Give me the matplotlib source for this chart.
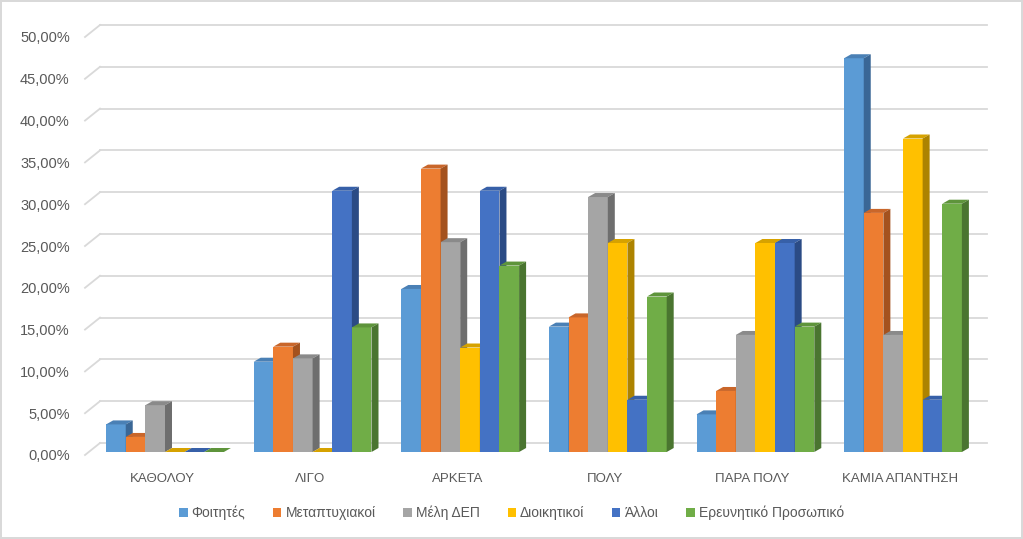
import matplotlib
matplotlib.use("Agg")
import matplotlib.pyplot as plt
from matplotlib.patches import Rectangle, Polygon, Patch

categories = ["ΚΑΘΟΛΟΥ", "ΛΙΓΟ", "ΑΡΚΕΤΑ", "ΠΟΛΥ", "ΠΑΡΑ ΠΟΛΥ", "ΚΑΜΙΑ ΑΠΑΝΤΗΣΗ"]
series = ["Φοιτητές", "Μεταπτυχιακοί", "Μέλη ΔΕΠ", "Διοικητικοί", "Άλλοι",
          "Ερευνητικό Προσωπικό"]

foitites = [3.3, 10.8, 19.5, 15.0, 4.5, 47.1]
metaptyxiakoi = [1.8, 12.6, 33.9, 16.1, 7.3, 28.6]
meli_dep = [5.6, 11.2, 25.1, 30.5, 14.0, 14.0]
dioikitikoi = [0.0, 0.0, 12.5, 25.0, 25.0, 37.5]
alloi = [0.0, 31.25, 31.25, 6.25, 25.0, 6.25]
erevnitiko = [0.0, 14.9, 22.3, 18.6, 15.0, 29.7]
values = [foitites, metaptyxiakoi, meli_dep, dioikitikoi, alloi, erevnitiko]

yticks = [0, 5, 10, 15, 20, 25, 30, 35, 40, 45, 50]

front = ["#5B9BD5", "#ED7D31", "#A5A5A5", "#FFC000", "#4472C4", "#70AD47"]
top = ["#4A80B5", "#C9662A", "#8A8A8A", "#D6A200", "#3760A8", "#5E943B"]
side = ["#3A6796", "#A4521E", "#6E6E6E", "#AD8300", "#2B4B85", "#4A7530"]

W, H = 1023, 539
fig = plt.figure(figsize=(W / 100, H / 100), dpi=100)
fig.patch.set_edgecolor("#d9d9d9")
fig.patch.set_linewidth(1.5)

# front plane of the plot, in pixels
x_left, x_right = 85, 972
y_zero, y_top = 455, 37
ax = fig.add_axes([x_left / W, 1 - y_zero / H, (x_right - x_left) / W,
                   (y_zero - y_top) / H])
cat_px0, cat_step = 162, 147.6
xmin = (x_left - cat_px0) / cat_step
xmax = (x_right - cat_px0) / cat_step
ax.set_xlim(xmin, xmax)
ax.set_ylim(0, 50)
for s in ax.spines.values():
    s.set_visible(False)

px_x = (xmax - xmin) / (x_right - x_left)
px_y = 50 / (y_zero - y_top)

# back wall gridlines
gdx, gdy = 15 * px_x, 12 * px_y
for v in yticks:
    ax.plot([xmin + gdx, xmax + gdx], [v + gdy, v + gdy], color="#d9d9d9",
            lw=1.3, zorder=1, clip_on=False)
    ax.plot([xmin, xmin + gdx], [v, v + gdy], color="#d9d9d9", lw=1.3,
            zorder=1, clip_on=False)

# 3d-like bars
bw = 0.133
bdx, bdy = 7 * px_x, 4 * px_y
offx, offy = 3 * px_x, 3 * px_y
z = 2
for i in range(len(categories)):
    for j, vals in enumerate(values):
        x0 = i - 3 * bw + j * bw + offx
        y0 = offy
        h = vals[i]
        ax.add_patch(Rectangle((x0, y0), bw, h, facecolor=front[j],
                               edgecolor="none", zorder=z, clip_on=False))
        ax.add_patch(Polygon([(x0, y0 + h), (x0 + bw, y0 + h),
                              (x0 + bw + bdx, y0 + h + bdy), (x0 + bdx, y0 + h + bdy)],
                             closed=True, facecolor=top[j], edgecolor="none",
                             zorder=z, clip_on=False))
        ax.add_patch(Polygon([(x0 + bw, y0), (x0 + bw + bdx, y0 + bdy),
                              (x0 + bw + bdx, y0 + h + bdy), (x0 + bw, y0 + h)],
                             closed=True, facecolor=side[j], edgecolor="none",
                             zorder=z, clip_on=False))
        z += 1

ax.set_yticks(yticks)
ax.set_yticklabels([f"{v:.2f}".replace(".", ",") + "%" for v in yticks],
                   fontsize=10.5, color="#595959", family="Liberation Sans")
ax.set_xticks(range(len(categories)))
ax.set_xticklabels(categories, fontsize=9.5, color="#595959", family="Liberation Sans")
ax.tick_params(axis="y", length=0, pad=11)
ax.tick_params(axis="x", length=0, pad=13)

handles = [Patch(facecolor=c, edgecolor="none") for c in front]
fig.legend(handles, series, loc="center", bbox_to_anchor=(0.5, 1 - 513 / H),
           ncol=6, frameon=False, handlelength=0.6, handleheight=0.6,
           handletextpad=0.3, columnspacing=2.0,
           prop={"family": "Liberation Sans", "size": 10}, labelcolor="#595959")

fig.savefig("out.png", dpi=100)
